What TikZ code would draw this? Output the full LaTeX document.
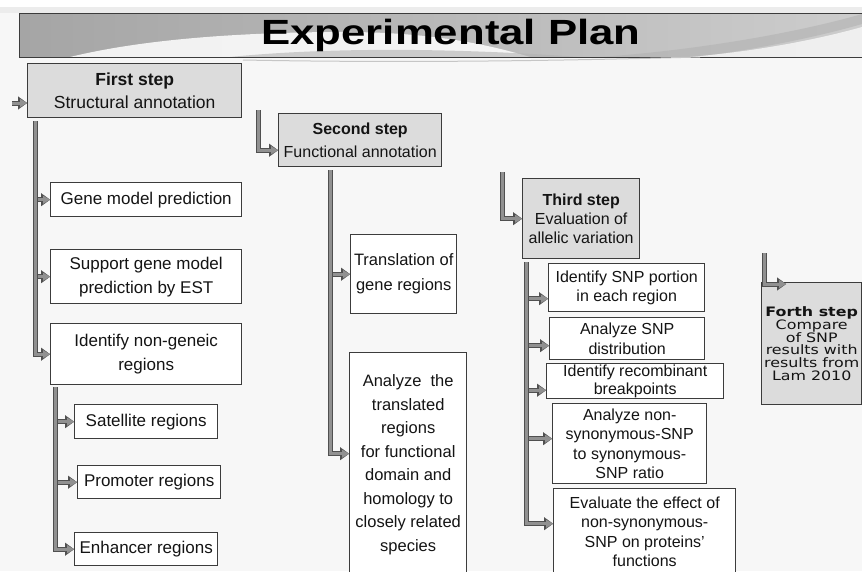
\documentclass[tikz,border=0pt]{standalone}
\usepackage{fontspec}
\setmainfont{Liberation Sans}
\newfontfamily\widefont{DejaVu Sans}[FakeStretch=1.22]
\usepackage{graphicx}
\usepackage{tikz}
\usetikzlibrary{arrows.meta, positioning, calc}
\definecolor{EPInk}{RGB}{20, 20, 20}
\definecolor{EPBorder}{RGB}{60, 60, 60}
\definecolor{EPStepFill}{RGB}{220, 220, 220}
\definecolor{EPPipe}{RGB}{145, 145, 145}
\definecolor{EPPipeEdge}{RGB}{80, 80, 80}
\definecolor{EPBannerDark}{RGB}{165, 165, 165}
\definecolor{EPBannerLight}{RGB}{205, 205, 205}
\definecolor{EPPaper}{RGB}{247, 247, 247}

\begin{document}
\begin{tikzpicture}[x=1pt, y=-1pt,
    box/.style={draw=EPBorder, line width=1.4pt, fill=white, anchor=north west,
                inner sep=1pt, align=center, text=EPInk},
    taskbox/.style={box, font=\fontsize{17}{24}\selectfont},
    snpbox/.style={box, font=\fontsize{16}{19.3}\selectfont},
    stepbox/.style={box, fill=EPStepFill},
    pipe/.style={draw=EPPipeEdge, line width=5pt,
                 -{Triangle[length=9pt, width=13pt, line width=0.1pt]},
                 postaction={draw=EPPipe, line width=3pt,
                   -{Triangle[length=7pt, width=8pt, line width=0.1pt]}}}]
    \useasboundingbox (0,0) rectangle (862,571);
    \clip (0,0) rectangle (862,571);
    \fill[EPPaper] (0,0) rectangle (862,571);
    \fill[white] (0,0) rectangle (862,7);
    \fill[gray!15] (0,7) rectangle (862,13);

    % title banner
    \path[left color=EPBannerDark, right color=EPBannerLight] (19,13) rectangle (870,57);
    \fill[white, opacity=0.85] (70,57) .. controls (140,40) and (230,33) .. (330,32)
        .. controls (420,31) and (480,42) .. (530,57) -- cycle;
    \fill[EPBannerDark!85, opacity=0.6] (230,57) .. controls (320,48) and (440,47) .. (580,57) -- cycle;
    \fill[gray!60, opacity=0.6] (600,57) .. controls (700,50) and (800,32) .. (862,14)
        -- (862,24) .. controls (800,42) and (720,55) .. (690,57) -- cycle;
    \fill[white, opacity=0.7] (690,57) .. controls (770,50) and (830,36) .. (862,27) -- (862,57) -- cycle;
    \draw[EPBorder, line width=1pt] (19,13) rectangle (870,57);
    \draw[gray!45, line width=1pt] (243,60) .. controls (400,63) and (550,61) .. (700,57);
    \node[font=\fontsize{35}{40}\selectfont\bfseries, text=black] (title) at (451,35)
        {\scalebox{1.25}[1]{Experimental Plan}};

    % first step
    \node[stepbox, minimum width=214pt, minimum height=54pt, font=\fontsize{17.5}{23}\selectfont]
        (first) at (27,63) {\textbf{First step}\\Structural annotation};
    \node[taskbox, minimum width=191pt, minimum height=34pt] (gene) at (50,182) {Gene model prediction};
    \node[taskbox, minimum width=191pt, minimum height=54pt] (support) at (50,249)
        {Support gene model\\prediction by EST};
    \node[taskbox, minimum width=191pt, minimum height=61pt] (nongen) at (50,323)
        {Identify non-geneic\\regions};
    \node[taskbox, minimum width=143pt, minimum height=34pt] (satel) at (74,404) {Satellite regions};
    \node[taskbox, minimum width=143pt, minimum height=33pt] (promo) at (77,465) {Promoter regions};
    \node[taskbox, minimum width=143pt, minimum height=33pt] (enhan) at (74,532) {Enhancer regions};

    % second step
    \node[stepbox, minimum width=163pt, minimum height=53pt, font=\fontsize{16}{23}\selectfont]
        (second) at (278,113) {\textbf{Second step}\\Functional annotation};
    \node[taskbox, minimum width=106pt, minimum height=79pt, font=\fontsize{16.5}{25}\selectfont]
        (trans) at (350,234) {Translation of\\gene regions};
    \node[taskbox, minimum width=117pt, minimum height=224pt, font=\fontsize{16.5}{23.5}\selectfont]
        (analyze) at (349,352) {Analyze\ \ the\\translated\\regions\\for functional\\domain and\\homology to\\closely related\\species};

    % third step
    \node[stepbox, minimum width=117pt, minimum height=80pt, font=\fontsize{16}{19}\selectfont]
        (third) at (522,178) {\textbf{Third step}\\Evaluation of\\allelic variation};
    \node[snpbox, minimum width=156pt, minimum height=48pt] (snpa) at (548,263)
        {Identify SNP portion\\in each region};
    \node[snpbox, minimum width=155pt, minimum height=42pt] (snpb) at (549,317)
        {Analyze SNP\\distribution};
    \node[snpbox, minimum width=177pt, minimum height=35pt, font=\fontsize{16}{18}\selectfont]
        (snpc) at (546,363) {Identify recombinant\\breakpoints};
    \node[snpbox, minimum width=154pt, minimum height=80pt] (snpd) at (552,403)
        {Analyze non-\\synonymous-SNP\\to synonymous-\\SNP ratio};
    \node[snpbox, minimum width=182pt, minimum height=86pt] (snpe) at (553,488)
        {Evaluate the effect of\\non-synonymous-\\SNP on proteins'\\functions};

    % forth step
    \node[stepbox, minimum width=100pt, minimum height=122pt,
          font=\widefont\fontsize{13}{12.8}\selectfont] (forth) at (761,282)
        {\textbf{Forth step}\\Compare\\of SNP\\results with\\results from\\Lam 2010};

    % connectors
    \coordinate (in1) at (12,103);
    \draw[pipe] (in1) -- (in1 -| first.west);
    \coordinate (t1) at ($(first.south west)+(8,3)$);
    \foreach \n in {gene,support,nongen}
        \draw[pipe] (t1) |- (\n.west);
    \coordinate (t4) at ($(nongen.south west)+(5,2)$);
    \foreach \n in {satel,promo,enhan}
        \draw[pipe] (t4) |- (\n.west);

    \coordinate (in2) at (258,110);
    \draw[pipe] (in2) |- ([yshift=-10pt]second.west);
    \coordinate (t2) at ($(second.south west)+(52,3)$);
    \draw[pipe] (t2) |- (trans.west);
    \draw[pipe] (t2) |- ([yshift=11pt]analyze.west);

    \coordinate (in3) at (502,172);
    \draw[pipe] (in3) |- (third.west);
    \coordinate (t3) at ($(third.south west)+(4,3)$);
    \draw[pipe] (t3) |- ([yshift=-11pt]snpa.west);
    \draw[pipe] (t3) |- ([yshift=-7pt]snpb.west);
    \draw[pipe] (t3) |- ([yshift=-9pt]snpc.west);
    \draw[pipe] (t3) |- ([yshift=5pt]snpd.west);
    \draw[pipe] (t3) |- ([yshift=8pt]snpe.west);

    \coordinate (in4) at (764,253);
    \coordinate (f4) at ($(forth.north west)+(25,2)$);
    \draw[pipe] (in4) |- (f4);
\end{tikzpicture}
\end{document}
